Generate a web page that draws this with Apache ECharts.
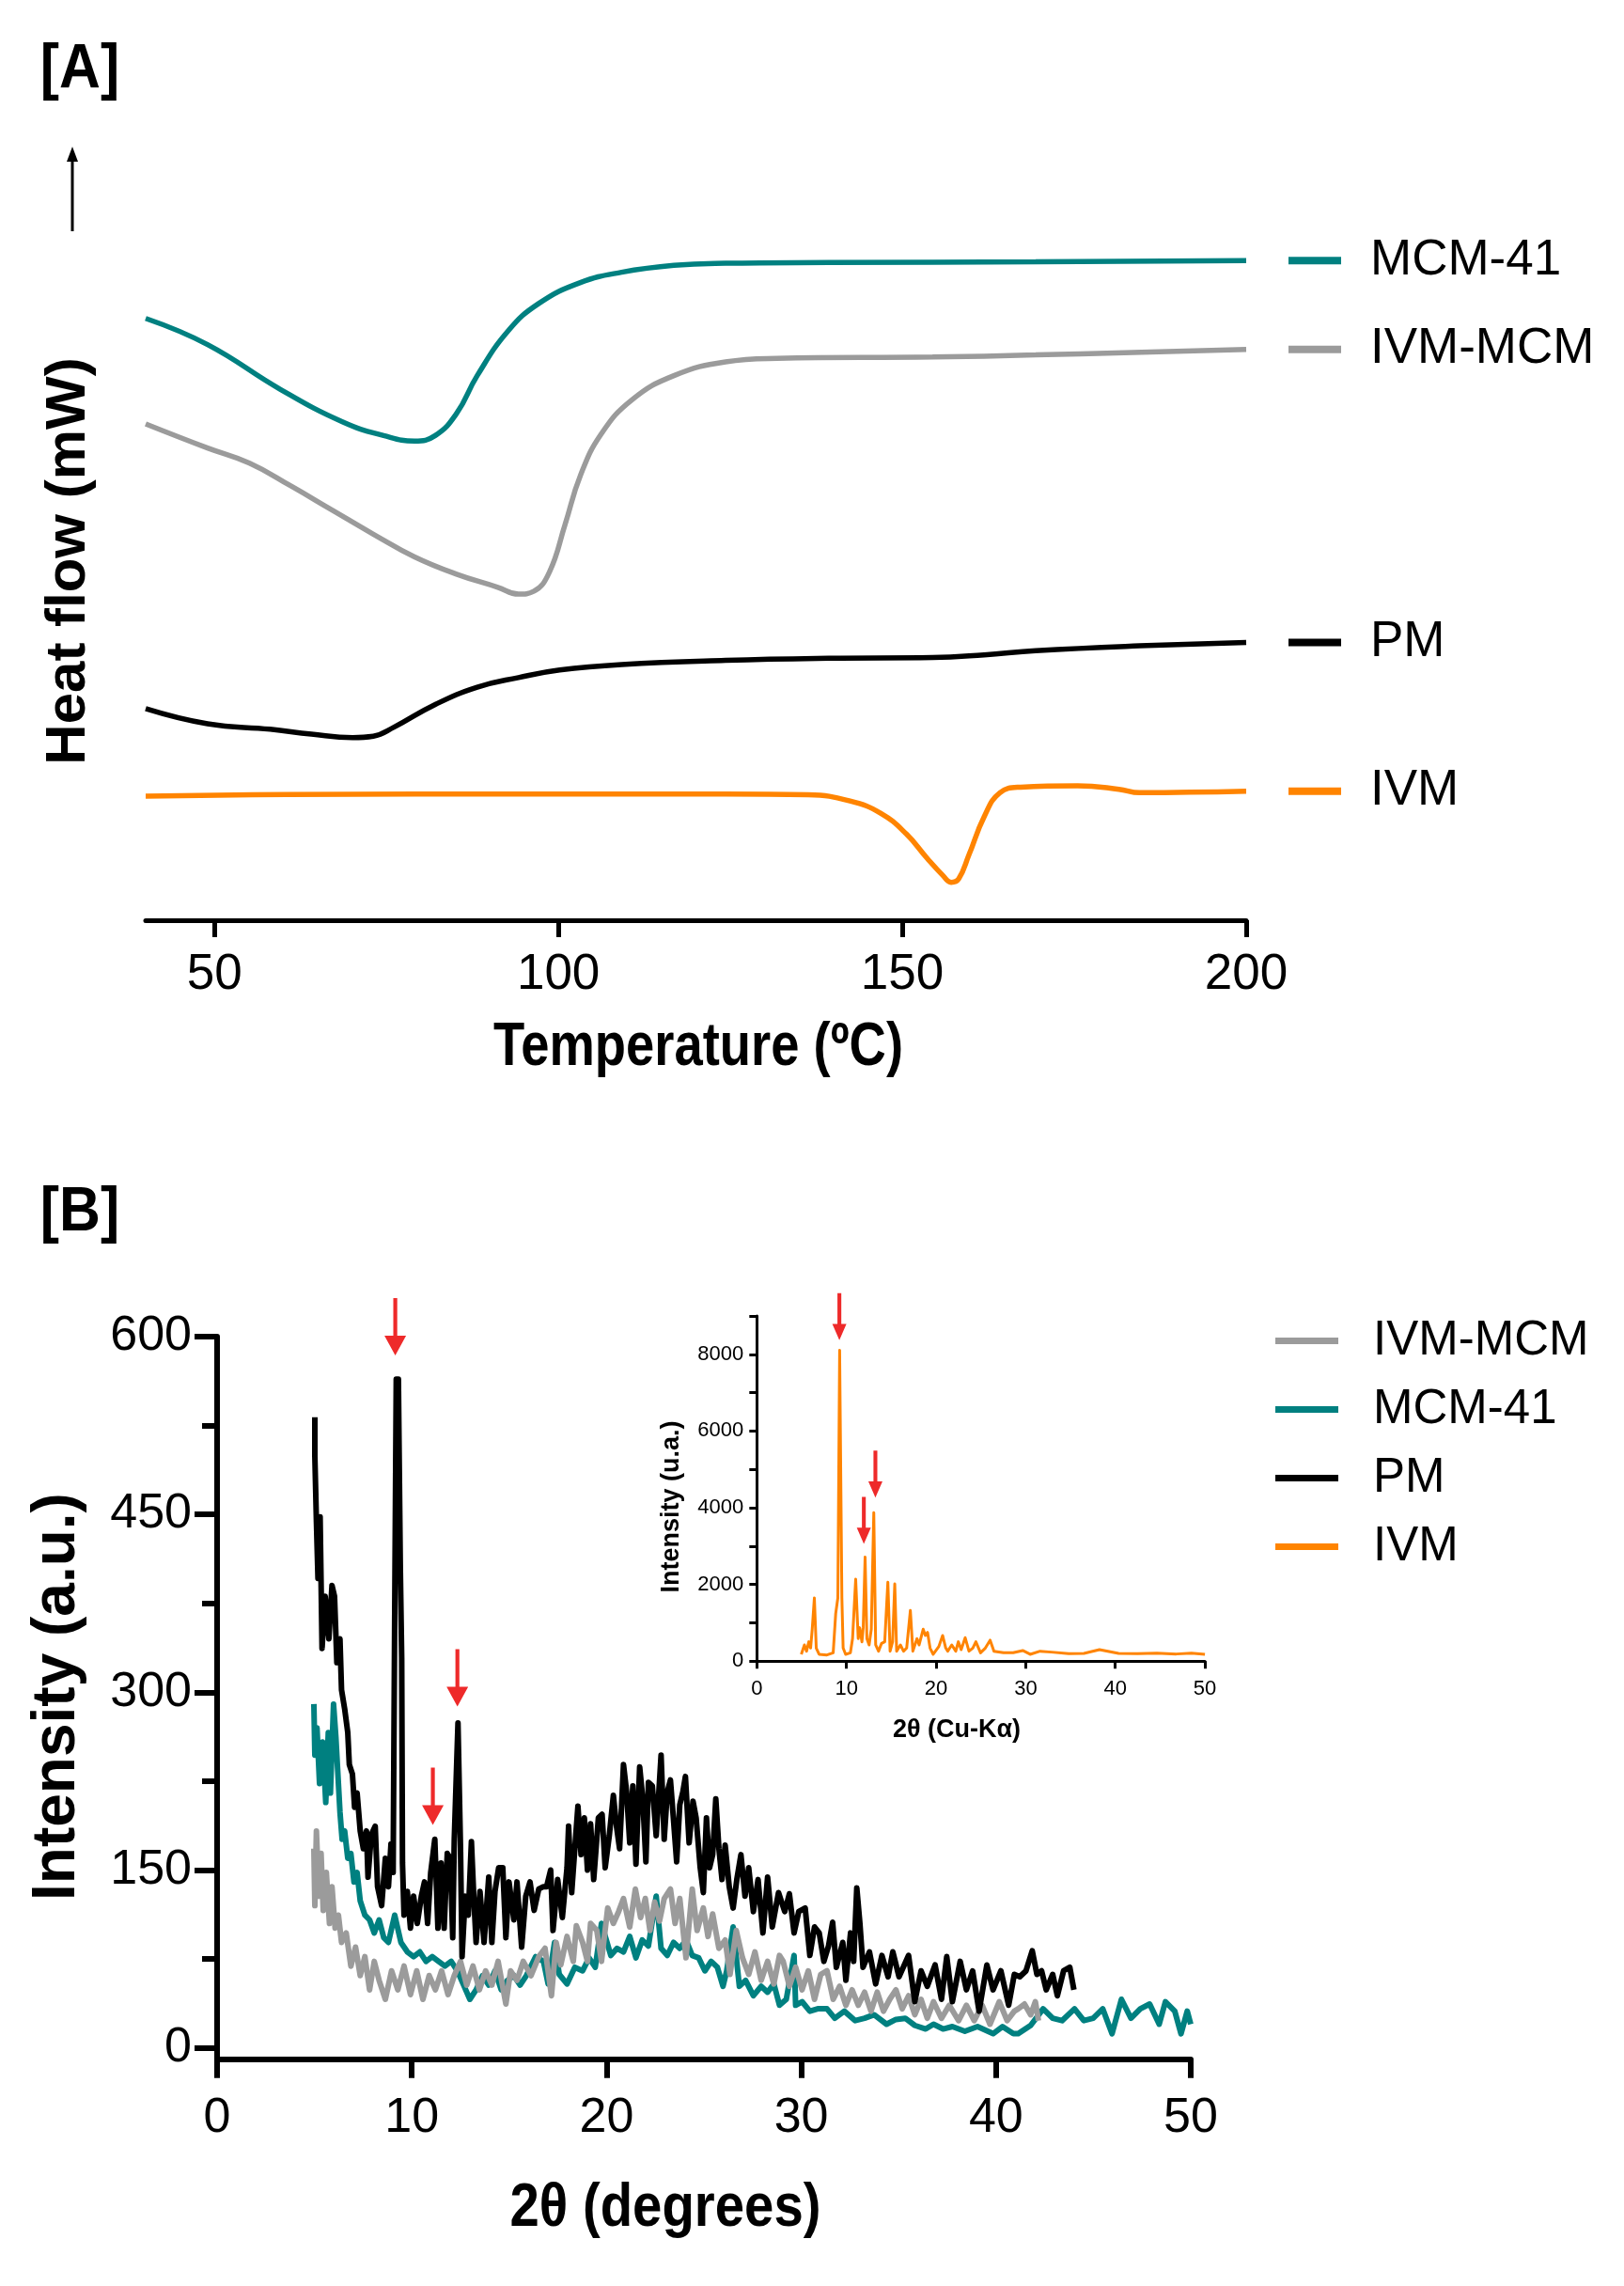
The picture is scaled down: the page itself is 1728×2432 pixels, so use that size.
<!DOCTYPE html>
<html>
<head>
<meta charset="utf-8">
<title>DSC and XRD</title>
<script src="https://cdn.jsdelivr.net/npm/echarts@6.0.0/dist/echarts.min.js"></script>
<style>
  html, body { margin: 0; padding: 0; background: #fff; }
  #chart { width: 1728px; height: 2432px; }
</style>
</head>
<body>
<div id="chart"></div>
<script>
// ---- [A] DSC curves (heat flow in arbitrary units) ----
var tempMCM = [40, 49.0, 59.6, 68.6, 74.6, 79.1, 82.1, 85.2, 88.2, 92.7, 97.2, 103.2, 109.2, 116.8, 124.3, 139.3, 169.4, 200];
var flowMCM = [873, 835, 770, 723, 703, 695, 703, 735, 790, 855, 895, 925, 940, 950, 953, 954, 955, 957];

var tempIVMMCM = [40, 49.0, 55.1, 61.1, 67.1, 73.1, 79.1, 85.2, 91.2, 94.2, 96.4, 98.7, 101.0, 103.2, 106.2, 110.7, 116.8, 124.3, 131.8, 154.4, 169.4, 200];
var flowIVMMCM = [720, 685, 663, 630, 595, 560, 527, 502, 483, 473, 477, 505, 575, 645, 705, 755, 790, 810, 815, 817, 820, 828];

var tempPM = [40, 49.0, 58.1, 64.1, 70.1, 73.1, 76.1, 82.1, 88.2, 94.2, 100.2, 109.2, 124.3, 139.3, 154.4, 161.9, 169.4, 184.5, 200];
var flowPM = [307, 285, 277, 270, 265, 267, 280, 313, 338, 352, 363, 371, 377, 380, 381, 385, 391, 398, 403];

var tempIVM = [40, 79.1, 124.3, 136.3, 142.4, 146.9, 150.6, 153.6, 155.9, 157.1, 158.2, 159.7, 161.9, 164.2, 167.2, 175.5, 181.5, 184.5, 200];
var flowIVM = [180, 183, 183, 182, 173, 155, 125, 90, 65, 55, 60, 95, 150, 185, 193, 195, 190, 185, 187];

var tempTicks = [50, 100, 150, 200];

// ---- [B] XRD patterns, [2theta, intensity] ----
var xrdPM = [
  [5.02,532],[5.02,499],[5.10,444],[5.18,396],[5.29,448],[5.39,337],[5.55,381],[5.74,345],[5.90,390],[6.03,381],
  [6.15,325],[6.31,345],[6.39,302],[6.55,286],[6.71,266],[6.79,239],[6.95,231],[7.06,203],[7.19,215],[7.35,183],
  [7.51,168],[7.67,183],[7.75,144],[7.92,180],[8.12,187],[8.24,136],[8.45,120],[8.64,160],[8.80,136],[8.93,172],
  [9.04,148],[9.12,365],[9.20,564],[9.31,564],[9.41,404],[9.48,329],[9.52,156],[9.60,112],[9.77,132],[9.93,101],
  [10.09,128],[10.28,105],[10.49,128],[10.65,140],[10.81,105],[10.97,148],[11.18,176],[11.34,101],[11.50,156],[11.66,101],
  [11.82,164],[11.98,160],[12.10,93],[12.18,176],[12.37,274],[12.50,168],[12.58,77],[12.74,128],[12.90,112],[13.06,174],
  [13.18,128],[13.30,89],[13.50,132],[13.71,89],[13.95,144],[14.11,89],[14.27,132],[14.46,152],[14.67,152],[14.83,93],
  [14.99,140],[15.24,108],[15.40,140],[15.64,85],[15.85,128],[16.07,140],[16.28,116],[16.52,134],[16.76,136],[16.92,136],
  [17.13,150],[17.25,99],[17.49,142],[17.73,110],[17.97,152],[18.05,187],[18.21,131],[18.37,168],[18.53,204],[18.69,163],
  [18.86,194],[19.02,150],[19.18,189],[19.34,142],[19.58,194],[19.77,197],[19.93,152],[20.14,179],[20.35,213],[20.51,187],
  [20.67,168],[20.87,239],[21.03,216],[21.19,173],[21.35,221],[21.51,155],[21.70,237],[21.86,210],[22.02,157],[22.15,224],
  [22.35,221],[22.55,179],[22.80,247],[22.96,176],[23.12,216],[23.28,226],[23.44,192],[23.60,157],[23.76,205],[23.92,216],
  [24.05,229],[24.24,173],[24.44,208],[24.60,194],[24.81,152],[24.97,131],[25.13,194],[25.29,152],[25.45,163],[25.61,210],
  [25.77,168],[25.93,142],[26.09,171],[26.30,136],[26.50,118],[26.69,142],[26.90,163],[27.11,128],[27.30,152],[27.54,115],
  [27.78,142],[28.03,97],[28.27,144],[28.51,102],[28.83,131],[29.15,115],[29.39,130],[29.63,97],[29.87,115],[30.20,118],
  [30.44,78],[30.68,102],[30.92,97],[31.16,73],[31.40,86],[31.61,106],[31.80,68],[32.13,89],[32.29,57],[32.53,97],
  [32.69,73],[32.85,135],[33.01,105],[33.17,68],[33.50,81],[33.82,54],[34.14,78],[34.46,60],[34.70,81],[35.02,60],
  [35.51,78],[35.83,39],[36.15,65],[36.47,52],[36.87,70],[37.20,41],[37.47,77],[37.76,39],[38.16,73],[38.48,49],
  [38.80,65],[39.13,31],[39.53,70],[39.85,49],[40.25,65],[40.65,36],[40.94,62],[41.22,60],[41.54,65],[41.86,82],
  [42.10,62],[42.34,65],[42.58,49],[42.91,62],[43.15,44],[43.47,65],[43.79,68],[44.00,49]
];

var xrdMCM = [
  [4.97,290],[5.02,247],[5.13,270],[5.26,223],[5.42,258],[5.58,207],[5.71,266],[5.82,215],[5.98,290],[6.10,262],
  [6.19,235],[6.31,199],[6.42,176],[6.55,183],[6.71,160],[6.87,164],[7.03,140],[7.19,148],[7.35,124],[7.59,112],
  [7.83,108],[8.07,97],[8.32,108],[8.56,93],[8.80,89],[9.12,112],[9.44,89],[9.77,81],[10.09,77],[10.41,81],
  [10.73,73],[11.05,77],[11.37,73],[11.70,69],[12.02,73],[12.34,65],[12.66,53],[12.98,41],[13.30,49],[13.63,61],
  [13.95,53],[14.27,65],[14.59,49],[14.91,57],[15.24,61],[15.56,53],[15.88,61],[16.36,77],[16.76,73],[17.00,54],
  [17.33,89],[17.57,62],[17.97,54],[18.37,68],[18.77,65],[19.10,76],[19.42,68],[19.74,105],[20.22,78],[20.54,84],
  [20.87,81],[21.19,94],[21.51,76],[21.83,91],[22.15,86],[22.55,128],[22.80,84],[23.12,78],[23.44,89],[23.76,84],
  [24.08,91],[24.40,78],[24.73,76],[25.05,65],[25.37,73],[25.69,68],[25.98,52],[26.17,65],[26.50,102],[26.82,52],
  [27.14,57],[27.54,44],[27.94,52],[28.27,47],[28.59,54],[28.88,36],[29.23,41],[29.63,78],[29.71,36],[30.04,39],
  [30.44,31],[30.84,33],[31.32,33],[31.72,25],[32.21,31],[32.77,23],[33.25,25],[33.74,28],[34.38,20],[34.86,24],
  [35.34,25],[35.83,19],[36.39,16],[36.79,20],[37.28,16],[37.76,18],[38.40,14],[39.05,18],[39.85,12],[40.33,18],
  [40.89,12],[41.14,12],[41.78,19],[42.42,33],[42.91,25],[43.39,23],[44.03,33],[44.51,23],[44.99,25],[45.48,33],
  [45.96,12],[46.44,41],[46.93,25],[47.41,33],[47.89,37],[48.38,20],[48.70,39],[49.18,31],[49.50,12],[49.82,31],
  [50.00,20]
];

var xrdIVMMCM = [
  [4.97,168],[5.02,120],[5.10,183],[5.23,128],[5.34,164],[5.45,116],[5.61,148],[5.77,105],[5.90,136],[6.06,101],
  [6.23,112],[6.39,89],[6.63,97],[6.87,69],[7.11,85],[7.35,61],[7.59,77],[7.83,49],[8.07,73],[8.32,57],
  [8.64,41],[8.96,65],[9.28,49],[9.60,69],[9.93,45],[10.25,65],[10.57,41],[10.89,61],[11.21,49],[11.53,65],
  [11.86,45],[12.18,61],[12.50,73],[12.82,53],[13.14,69],[13.47,49],[13.79,65],[14.11,53],[14.43,73],[14.83,37],
  [15.07,65],[15.40,57],[15.72,73],[16.12,61],[16.52,77],[16.84,84],[17.17,44],[17.41,89],[17.65,70],[17.97,94],
  [18.29,73],[18.45,103],[18.77,89],[19.02,73],[19.18,105],[19.50,99],[19.74,73],[20.06,118],[20.35,105],[20.62,115],
  [20.87,126],[21.19,102],[21.48,134],[21.75,110],[21.99,126],[22.23,99],[22.47,123],[22.72,107],[22.96,126],[23.28,134],
  [23.52,105],[23.76,126],[24.08,76],[24.40,134],[24.65,99],[24.97,118],[25.21,94],[25.45,113],[25.77,84],[26.09,91],
  [26.34,62],[26.66,99],[26.98,76],[27.30,62],[27.62,81],[27.94,57],[28.27,73],[28.59,54],[28.88,78],[29.07,73],
  [29.39,52],[29.71,68],[30.04,49],[30.36,65],[30.68,41],[31.00,62],[31.32,65],[31.64,41],[31.97,52],[32.29,36],
  [32.61,49],[32.93,36],[33.25,47],[33.58,31],[33.90,47],[34.22,31],[34.54,41],[34.86,49],[35.18,33],[35.51,44],
  [35.83,28],[36.15,41],[36.47,25],[36.79,39],[37.20,25],[37.60,36],[38.08,23],[38.48,36],[38.88,23],[39.29,36],
  [39.69,20],[40.17,39],[40.57,23],[40.94,31],[41.14,33],[41.46,37],[41.78,28],[42.02,39],[42.18,23]
];

// inset: pure IVM
var xrdIVM = [
  [4.96,179],[5.31,424],[5.55,261],[5.80,506],[6.00,343],[6.18,833],[6.42,1650],[6.63,343],[6.95,179],[7.82,163],
  [8.52,220],[8.80,1242],[9.04,1650],[9.24,8106],[9.49,1650],[9.63,343],[9.91,179],[10.44,220],[10.68,588],[11.03,2140],
  [11.31,588],[11.48,874],[11.73,506],[11.87,874],[12.08,2713],[12.28,588],[12.53,424],[12.77,833],[13.05,3873],[13.26,424],
  [13.58,261],[13.92,465],[14.27,506],[14.62,2059],[14.87,261],[15.15,506],[15.39,2018],[15.60,261],[16.02,424],[16.37,261],
  [16.72,343],[17.13,1323],[17.41,261],[17.87,588],[18.11,424],[18.56,833],[18.81,670],[19.05,751],[19.33,343],[19.68,179],
  [20.31,384],[20.73,670],[21.08,343],[21.30,261],[21.75,425],[22.20,261],[22.48,507],[22.80,302],[23.25,613],[23.67,261],
  [24.10,343],[24.44,507],[24.96,220],[25.50,343],[26.03,548],[26.46,261],[27.53,220],[28.60,220],[29.67,278],[30.50,180],
  [31.60,261],[32.88,237],[34.80,196],[36.50,204],[38.23,302],[40.37,204],[42.50,196],[44.65,212],[46.80,188],[48.50,212],
  [50.00,180]
];

var intensityTicks = [0, 150, 300, 450, 600];
var intensityMinor = [75, 225, 375, 525];

// red arrows: [2theta, intensity] of the arrow tip
var mainArrowTips = [[9.15, 584], [11.08, 188], [12.34, 288]];
var insetArrowTips = [[9.21, 8368], [11.94, 3056], [13.23, 4265]];

var SANS = '"Liberation Sans", Arial, Helvetica, sans-serif';

var TEAL = '#008080', GREY = '#9b9b9b', BLACK = '#000000', ORANGE = '#ff8400', RED = '#ee2a2a';

var ARROW = 'path://M9,0 L13,0 L13,40 L22,40 L11,61 L0,40 L9,40 Z';
var ARROW_SMALL = 'path://M8,0 L14,0 L14,40 L22,40 L11,61 L0,40 L8,40 Z';

function zip(xs, ys) {
  var out = [];
  for (var i = 0; i < xs.length; i++) out.push([xs[i], ys[i]]);
  return out;
}

function dscSeries(name, color, xs, ys) {
  return {
    name: name, type: 'line', xAxisIndex: 0, yAxisIndex: 0,
    data: zip(xs, ys), smooth: 0.45,
    showSymbol: false, symbol: 'none', color: color,
    lineStyle: { color: color, width: 5.5 },
    endLabel: {
      show: true, distance: 45,
      formatter: '{l| }{t|' + name + '}',
      rich: {
        l: { width: 56, height: 8, backgroundColor: color },
        t: { fontSize: 53, fontFamily: SANS, color: '#000', padding: [0, 0, 0, 31] }
      }
    }
  };
}

function xrdSeries(name, color, data, xi, yi, width) {
  return {
    name: name, type: 'line', xAxisIndex: xi, yAxisIndex: yi,
    data: data, showSymbol: false, symbol: 'none', color: color,
    lineStyle: { color: color, width: width, join: 'round' }
  };
}

function arrows(tips, path, size) {
  return {
    symbol: path, symbolSize: size, symbolOffset: [0, '-50%'],
    symbolKeepAspect: false,
    itemStyle: { color: RED },
    label: { show: false },
    data: tips.map(function (t) { return { coord: t }; })
  };
}

function textEl(text, x, y, font, rot, sx) {
  return {
    type: 'text', x: x, y: y, rotation: rot || 0, scaleX: sx || 1, z: 100,
    style: {
      text: text, font: font, fill: '#000',
      align: 'center', verticalAlign: 'middle',
      textAlign: 'center', textVerticalAlign: 'middle'
    }
  };
}

var chart = echarts.init(document.getElementById('chart'));

var pmSeries = xrdSeries('PM', BLACK, xrdPM, 1, 1, 6);
pmSeries.markPoint = arrows(mainArrowTips, ARROW, [23, 61]);
var ivmSeries = xrdSeries('IVM', ORANGE, xrdIVM, 2, 3, 3);
ivmSeries.markPoint = arrows(insetArrowTips, ARROW_SMALL, [15, 50]);

var option = {
  animation: false,
  backgroundColor: '#ffffff',
  textStyle: { fontFamily: SANS, color: '#000' },
  grid: [
    { left: 155, right: 402, top: 245.6, bottom: 1453, containLabel: false, outerBoundsMode: 'none' },
    { left: 231, right: 461, top: 1421.9, bottom: 241.3, containLabel: false, outerBoundsMode: 'none' },
    { left: 805.3, right: 445.9, top: 1400, bottom: 664.7, containLabel: false, outerBoundsMode: 'none' }
  ],
  xAxis: [
    {
      gridIndex: 0, type: 'value', min: 40, max: 200,
      axisLine: { onZero: false, lineStyle: { color: '#000', width: 5 } },
      axisTick: { customValues: tempTicks, length: 18, lineStyle: { color: '#000', width: 5 } },
      axisLabel: { customValues: tempTicks, margin: 32, fontSize: 53, fontFamily: SANS, color: '#000' },
      splitLine: { show: false }
    },
    {
      gridIndex: 1, type: 'value', min: 0, max: 50, interval: 10,
      axisLine: { onZero: false, lineStyle: { color: '#000', width: 6 } },
      axisTick: { length: 20, lineStyle: { color: '#000', width: 6 } },
      axisLabel: { margin: 37, fontSize: 52, fontFamily: SANS, color: '#000' },
      splitLine: { show: false }
    },
    {
      gridIndex: 2, type: 'value', min: 0, max: 50, interval: 10,
      axisLine: { onZero: false, lineStyle: { color: '#000', width: 3 } },
      axisTick: { length: 8, lineStyle: { color: '#000', width: 3 } },
      axisLabel: { margin: 19, fontSize: 22, fontFamily: SANS, color: '#000' },
      splitLine: { show: false }
    }
  ],
  yAxis: [
    { gridIndex: 0, type: 'value', min: 0, max: 1000, show: false },
    {
      gridIndex: 1, type: 'value', min: -9.5, max: 600, position: 'left',
      axisLine: { show: true, onZero: false, lineStyle: { color: '#000', width: 6 } },
      axisTick: { show: true, customValues: intensityTicks, length: 24, lineStyle: { color: '#000', width: 6 } },
      axisLabel: { customValues: intensityTicks, margin: 27, fontSize: 52, fontFamily: SANS, color: '#000' },
      splitLine: { show: false }
    },
    {
      gridIndex: 1, type: 'value', min: -9.5, max: 600, position: 'left', offset: 0,
      axisLine: { show: false },
      axisTick: { show: true, customValues: intensityMinor, length: 16, lineStyle: { color: '#000', width: 6 } },
      axisLabel: { show: false },
      splitLine: { show: false }
    },
    {
      gridIndex: 2, type: 'value', min: 0, max: 9000, interval: 1000,
      axisLine: { show: true, onZero: false, lineStyle: { color: '#000', width: 3 } },
      axisTick: { show: true, length: 8, lineStyle: { color: '#000', width: 3 } },
      axisLabel: {
        margin: 14, fontSize: 22, fontFamily: SANS, color: '#000',
        formatter: function (v) { return v % 2000 === 0 ? String(v) : ''; }
      },
      splitLine: { show: false }
    }
  ],
  legend: {
    orient: 'vertical', left: 1352, top: 1396, itemGap: 22,
    itemWidth: 67, itemHeight: 7, icon: 'rect',
    selectedMode: false,
    textStyle: { fontSize: 51, fontFamily: SANS, color: '#000', padding: [0, 0, 0, 32] },
    data: [
      { name: 'IVM-MCM', itemStyle: { color: GREY } },
      { name: 'MCM-41', itemStyle: { color: TEAL } },
      { name: 'PM', itemStyle: { color: BLACK } },
      { name: 'IVM', itemStyle: { color: ORANGE } }
    ]
  },
  graphic: [
    textEl('[A]', 85, 75, 'bold 66px ' + SANS, 0, 0.92),
    textEl('[B]', 85, 1291, 'bold 66px ' + SANS, 0, 0.92),
    textEl('Heat flow (mW)', 73, 597, 'bold 60px ' + SANS, Math.PI / 2),
    textEl('Temperature (\u00baC)', 743, 1115, 'bold 64px ' + SANS, 0, 0.85),
    textEl('Intensity (a.u.)', 61, 1805, 'bold 64px ' + SANS, Math.PI / 2),
    textEl('2\u03b8 (degrees)', 708, 2350, 'bold 64px ' + SANS, 0, 0.88),
    textEl('Intensity (u.a.)', 715, 1603, 'bold 27px ' + SANS, Math.PI / 2),
    textEl('2\u03b8 (Cu-K\u03b1)', 1018, 1841, 'bold 27px ' + SANS),
    {
      type: 'line', z: 100,
      shape: { x1: 77, y1: 246, x2: 77, y2: 168 },
      style: { stroke: '#000', lineWidth: 3 }
    },
    {
      type: 'polygon', z: 100,
      shape: { points: [[71, 172], [83, 172], [77, 156]] },
      style: { fill: '#000' }
    }
  ],
  series: [
    dscSeries('MCM-41', TEAL, tempMCM, flowMCM),
    dscSeries('IVM-MCM', GREY, tempIVMMCM, flowIVMMCM),
    dscSeries('PM', BLACK, tempPM, flowPM),
    dscSeries('IVM', ORANGE, tempIVM, flowIVM),
    xrdSeries('MCM-41', TEAL, xrdMCM, 1, 1, 6),
    xrdSeries('IVM-MCM', GREY, xrdIVMMCM, 1, 1, 6),
    pmSeries,
    ivmSeries
  ]
};

chart.setOption(option);
</script>
</body>
</html>
